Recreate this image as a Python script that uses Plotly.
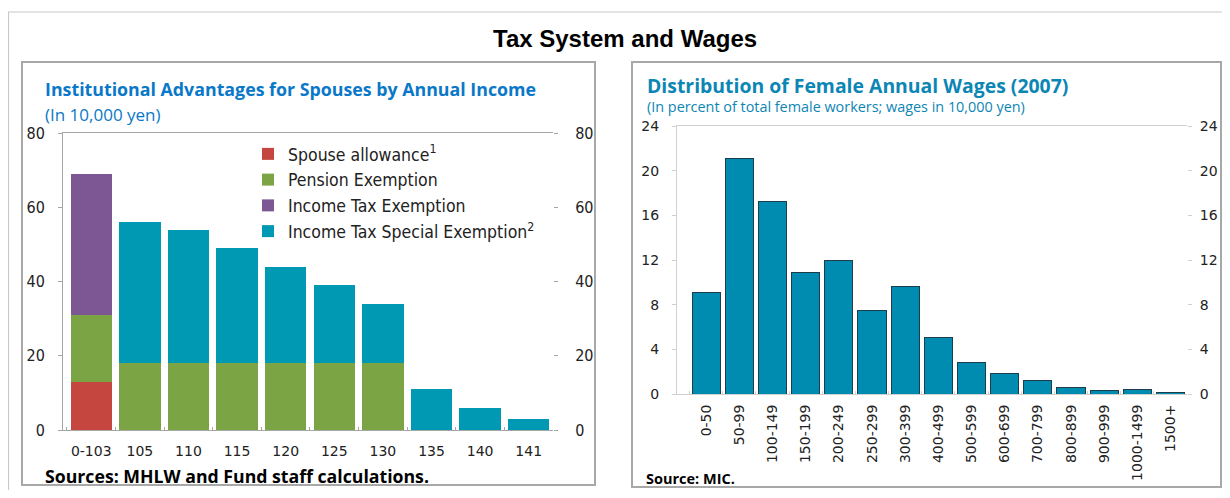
import plotly.graph_objects as go

# ---- left chart: institutional advantages (10,000 yen) ----
income_cats = ["0-103", "105", "110", "115", "120", "125", "130", "135", "140", "141"]
spouse_allowance = [13, 0, 0, 0, 0, 0, 0, 0, 0, 0]
pension_exemption = [18, 18, 18, 18, 18, 18, 18, 0, 0, 0]
income_tax_exemption = [38, 0, 0, 0, 0, 0, 0, 0, 0, 0]
special_exemption = [0, 38, 36, 31, 26, 21, 16, 11, 6, 3]
left_ticks = [0, 20, 40, 60, 80]

# ---- right chart: distribution of female annual wages (2007) ----
wage_cats = ["0-50", "50-99", "100-149", "150-199", "200-249", "250-299", "300-399",
             "400-499", "500-599", "600-699", "700-799", "800-899", "900-999",
             "1000-1499", "1500+"]
wage_share = [9.1, 21.1, 17.2, 10.9, 12.0, 7.5, 9.6, 5.1, 2.8, 1.8, 1.2, 0.6, 0.3, 0.4, 0.1]
right_ticks = [0, 4, 8, 12, 16, 20, 24]

# page body has an 8px margin, so the figure is a bit smaller than the window
OFF = 8
W, H = 1230 - 2 * OFF, 498 - 2 * OFF


def px(x):
    return (x - OFF) / W


def py(y):
    return 1 - (y - OFF) / H


fig = go.Figure()

left_series = [
    ("Spouse allowance<sup>1</sup>", spouse_allowance, "#C4463F"),
    ("Pension Exemption", pension_exemption, "#7BA445"),
    ("Income Tax Exemption", income_tax_exemption, "#7D5794"),
    ("Income Tax Special Exemption<sup>2</sup>", special_exemption, "#0099B4"),
]
for name, vals, col in left_series:
    fig.add_trace(go.Bar(x=income_cats, y=vals, name=name, marker_color=col,
                         marker_line_width=0, xaxis="x", yaxis="y"))

# invisible helper so the right-hand copy of the left axis is drawn
fig.add_trace(go.Scatter(x=income_cats[:1], y=[0], xaxis="x", yaxis="y2", mode="markers",
                         marker_opacity=0, showlegend=False, hoverinfo="skip"))

fig.add_trace(go.Bar(x=wage_cats, y=wage_share, marker_color="#008CB0",
                     marker_line=dict(color="#1E3C4A", width=1), showlegend=False,
                     xaxis="x2", yaxis="y3"))
fig.add_trace(go.Scatter(x=wage_cats[:1], y=[0], xaxis="x2", yaxis="y4", mode="markers",
                         marker_opacity=0, showlegend=False, hoverinfo="skip"))

left_tick_font = dict(family="DejaVu Sans Condensed", size=16, color="#222")
right_tick_font = dict(family="DejaVu Sans", size=14, color="#222")
lx0, lx1, ly0, ly1 = px(63), px(553), py(430), py(133)
rx0, rx1, ry0, ry1 = px(677), px(1187), py(394), py(126)

fig.update_layout(
    width=W, height=H,
    margin=dict(l=0, r=0, t=0, b=0, autoexpand=False),
    paper_bgcolor="white", plot_bgcolor="white",
    barmode="stack", bargap=0.15,
    showlegend=True,
    legend=dict(x=px(248), y=py(136), xanchor="left", yanchor="top",
                traceorder="normal",
                font=dict(family="DejaVu Sans Condensed", size=17.5, color="#222"),
                bgcolor="rgba(0,0,0,0)", tracegroupgap=0, itemwidth=30),
    xaxis=dict(domain=[lx0, lx1], anchor="y", automargin=False, showline=True,
               linecolor="#A6A6A6", mirror=True, ticks="inside", tickson="boundaries",
               ticklen=3, tickcolor="#A6A6A6", tickangle=0,
               tickfont=dict(family="DejaVu Sans", size=14, color="#222"),
               ticklabelstandoff=8),
    yaxis=dict(domain=[ly0, ly1], anchor="x", automargin=False, range=[0, 80],
               tickvals=left_ticks, showgrid=False, zeroline=False, showline=True,
               linecolor="#A6A6A6", ticks="outside", ticklen=4, tickcolor="#A6A6A6",
               tickfont=left_tick_font, ticklabelstandoff=10),
    yaxis2=dict(overlaying="y", side="right", anchor="x", automargin=False, range=[0, 80],
                tickvals=left_ticks, showgrid=False, zeroline=False, showline=False,
                ticks="outside", ticklen=4, tickcolor="#A6A6A6", tickfont=left_tick_font,
                ticklabelstandoff=14),
    xaxis2=dict(domain=[rx0, rx1], anchor="y3", automargin=False, showline=True,
                linecolor="#D0D0D0", mirror=True, ticks="inside", tickson="boundaries",
                ticklen=3, tickcolor="#D0D0D0", tickangle=-90,
                tickfont=right_tick_font, ticklabelstandoff=4),
    yaxis3=dict(domain=[ry0, ry1], anchor="x2", automargin=False, range=[0, 24],
                tickvals=right_ticks, showgrid=False, zeroline=False, showline=True,
                linecolor="#D0D0D0", ticks="outside", ticklen=4, tickcolor="#D0D0D0",
                tickfont=right_tick_font, ticklabelstandoff=10),
    yaxis4=dict(overlaying="y3", side="right", anchor="x2", automargin=False, range=[0, 24],
                tickvals=right_ticks, showgrid=False, zeroline=False, showline=False,
                ticks="outside", ticklen=4, tickcolor="#D0D0D0",
                tickfont=right_tick_font, ticklabelstandoff=5),
)

# frames: outer box and the two panel boxes
box = dict(type="rect", xref="paper", yref="paper", fillcolor="rgba(0,0,0,0)", layer="below")
fig.add_shape(**box, x0=px(8.5), x1=px(1240), y0=py(520), y1=py(12),
              line=dict(color="#C8C8C8", width=1.2))
fig.add_shape(**box, x0=px(22), x1=px(595), y0=py(485), y1=py(62),
              line=dict(color="#A8A8A8", width=2))
fig.add_shape(**box, x0=px(632), x1=px(1221), y0=py(487), y1=py(62),
              line=dict(color="#A8A8A8", width=2))

ann = dict(xref="paper", yref="paper", showarrow=False, xanchor="left", yanchor="middle")
fig.add_annotation(**{**ann, "xanchor": "center"}, x=px(625), y=py(38),
                   text="<b>Tax System and Wages</b>",
                   font=dict(family="Liberation Sans", size=24, color="black"))
fig.add_annotation(**ann, x=px(43), y=py(89),
                   text="<b>Institutional Advantages for Spouses by Annual Income</b>",
                   font=dict(family="Open Sans", size=17.8, color="#0A78C8"))
fig.add_annotation(**ann, x=px(43), y=py(114), text="(In 10,000 yen)",
                   font=dict(family="Open Sans", size=17, color="#0A78C8"))
fig.add_annotation(**ann, x=px(43), y=py(476),
                   text="<b>Sources: MHLW and Fund staff calculations.</b>",
                   font=dict(family="Open Sans", size=17.7, color="black"))
fig.add_annotation(**ann, x=px(645), y=py(86),
                   text="<b>Distribution of Female Annual Wages (2007)</b>",
                   font=dict(family="Open Sans", size=19.4, color="#0C86B4"))
fig.add_annotation(**ann, x=px(645), y=py(107),
                   text="(In percent of total female workers; wages in 10,000 yen)",
                   font=dict(family="Open Sans", size=14.4, color="#0C86B4"))
fig.add_annotation(**ann, x=px(644), y=py(478), text="<b>Source: MIC.</b>",
                   font=dict(family="Open Sans", size=14.5, color="black"))

fig.write_html("out.html")
